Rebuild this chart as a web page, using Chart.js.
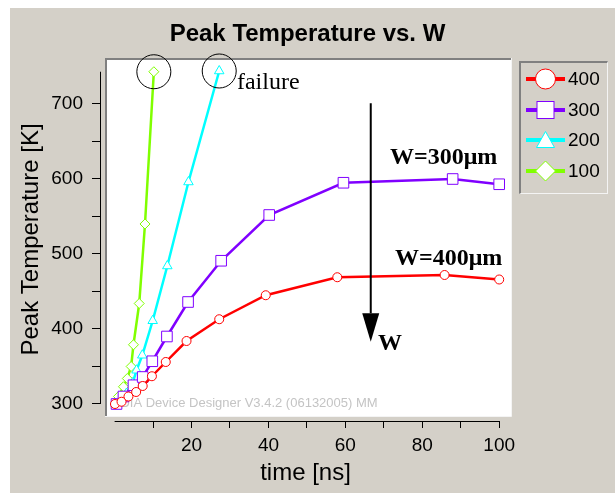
<!DOCTYPE html>
<html lang="en">
<head>
  <meta charset="utf-8">
  <title>Peak Temperature vs. W</title>
  <script src="https://cdn.jsdelivr.net/npm/chart.js"></script>
  <style>
    html, body { margin: 0; padding: 0; background: #fff; }
    .panel { position: absolute; left: 10px; top: 8px; width: 605px; height: 485px; background: #d4d0c8; }
    #chart { position: absolute; left: 0; top: 0; }
    .legend {
      position: absolute; left: 519px; top: 61px; width: 86px; height: 130px;
      border-top: 2px solid #808080; border-left: 2px solid #808080;
      border-right: 1px solid #f4f4f4; border-bottom: 1px solid #f4f4f4;
      font: 19px "Liberation Sans", Arial, sans-serif; color: #000;
    }
    .legend-item { position: absolute; left: 5px; height: 24px; display: flex; align-items: center; }
    .legend-item svg { display: block; }
    .legend-item span { margin-left: 2px; }
  </style>
</head>
<body>
<div class="panel"></div>
<canvas id="chart" width="615" height="495"></canvas>
<div class="legend" id="legend"></div>
<script>
  // series: W = 400, 300, 200, 100 um
  const seriesLabels = ['400', '300', '200', '100'];

  const time400 = [0.1, 1.8, 3.6, 5.6, 7.3, 9.7, 13.3, 18.7, 27.2, 39.3, 57.9, 85.8, 100];
  const temp400 = [300, 303, 310, 316, 324, 337, 356, 384, 413, 445, 469, 472, 466];

  const time300 = [0.5, 2.3, 4.9, 7.3, 9.8, 13.6, 19.1, 27.7, 40.2, 59.5, 87.9, 100];
  const temp300 = [300, 310, 325, 336, 357, 390, 436, 491, 552, 595, 600, 593];

  const time200 = [0.3, 1.4, 3.1, 4.7, 5.7, 7.2, 9.9, 13.7, 19.2, 27.2];
  const temp200 = [300, 305, 314, 328, 345, 365, 411, 484, 596, 744];

  const time100 = [0.3, 1.0, 2.3, 3.3, 4.3, 4.9, 6.4, 7.9, 10.2];
  const temp100 = [300, 310, 323, 334, 350, 379, 434, 540, 743];

  const xTicks = [10, 20, 30, 40, 50, 60, 70, 80, 90, 100];
  const yTicks = [300, 350, 400, 450, 500, 550, 600, 650, 700];

  const times = [time400, time300, time200, time100];
  const temps = [temp400, temp300, temp200, temp100];

  const colors = ['#ff0000', '#8000ff', '#00ffff', '#80ff00'];
  const styles = ['circle', 'rect', 'triangle', 'rectRot'];
  const radii = [4.5, 7.5, 5.5, 5];

  const sans = '"Liberation Sans", Arial, sans-serif';
  const serif = '"Liberation Serif", "Times New Roman", serif';
  const watermark = 'SOIA Device Designer V3.4.2 (06132005) MM';

  // annotation anchors, in data units
  const notes = {
    failure: { x: 31.8, y: 720 },
    arrow: { x: 66.6, top: 701, headBase: 421, tip: 383 },
    arrowLabel: { x: 68.5, y: 372 },
    w300: { x: 71.6, y: 620 },
    w400: { x: 72.9, y: 485 }
  };

  const plotFrame = {
    id: 'plotFrame',
    beforeDraw(chart) {
      const { ctx, chartArea: a } = chart;
      const l = a.left + 5, b = a.bottom - 5;
      ctx.save();
      ctx.fillStyle = '#fff';
      ctx.fillRect(l, a.top, a.right - l, b - a.top);
      ctx.strokeStyle = '#f4f4f4';
      ctx.lineWidth = 1;
      ctx.beginPath();
      ctx.moveTo(l, b + 0.5); ctx.lineTo(a.right + 0.5, b + 0.5); ctx.lineTo(a.right + 0.5, a.top);
      ctx.stroke();
      ctx.strokeStyle = '#808080';
      ctx.lineWidth = 2;
      ctx.beginPath();
      ctx.moveTo(l + 1, b); ctx.lineTo(l + 1, a.top + 1); ctx.lineTo(a.right, a.top + 1);
      ctx.stroke();
      ctx.fillStyle = '#c4c4c4';
      ctx.font = '13px ' + sans;
      ctx.textBaseline = 'alphabetic';
      ctx.fillText(watermark, l + 6, b - 9);
      ctx.restore();
    }
  };

  const axisLines = {
    id: 'axisLines',
    beforeDatasetsDraw(chart) {
      const { ctx, chartArea: a, scales: { x, y } } = chart;
      ctx.save();
      ctx.strokeStyle = '#000';
      ctx.lineWidth = 1;
      ctx.beginPath();
      ctx.moveTo(a.left + 0.5, y.getPixelForValue(743));
      ctx.lineTo(a.left + 0.5, y.getPixelForValue(300));
      ctx.moveTo(x.getPixelForValue(0), a.bottom + 0.5);
      ctx.lineTo(x.getPixelForValue(100), a.bottom + 0.5);
      ctx.stroke();
      ctx.restore();
    }
  };

  const annotations = {
    id: 'annotations',
    afterDatasetsDraw(chart) {
      const { ctx, scales: { x, y } } = chart;
      ctx.save();
      ctx.strokeStyle = '#000';
      ctx.fillStyle = '#000';
      ctx.lineWidth = 1;
      // circles round the failure points
      [[time100, temp100], [time200, temp200]].forEach(([t, v]) => {
        const i = t.length - 1;
        ctx.beginPath();
        ctx.arc(x.getPixelForValue(t[i]), y.getPixelForValue(v[i]), 17, 0, Math.PI * 2);
        ctx.stroke();
      });
      ctx.textBaseline = 'alphabetic';
      ctx.font = '24px ' + serif;
      ctx.fillText('failure', x.getPixelForValue(notes.failure.x), y.getPixelForValue(notes.failure.y));

      // arrow
      const ax = x.getPixelForValue(notes.arrow.x);
      ctx.lineWidth = 2;
      ctx.beginPath();
      ctx.moveTo(ax, y.getPixelForValue(notes.arrow.top));
      ctx.lineTo(ax, y.getPixelForValue(notes.arrow.headBase));
      ctx.stroke();
      ctx.beginPath();
      ctx.moveTo(ax - 8.5, y.getPixelForValue(notes.arrow.headBase));
      ctx.lineTo(ax + 8.5, y.getPixelForValue(notes.arrow.headBase));
      ctx.lineTo(ax, y.getPixelForValue(notes.arrow.tip));
      ctx.closePath();
      ctx.fill();

      ctx.font = 'bold 24px ' + serif;
      ctx.fillText('W', x.getPixelForValue(notes.arrowLabel.x), y.getPixelForValue(notes.arrowLabel.y));
      ctx.fillText('W=300\u03bcm', x.getPixelForValue(notes.w300.x), y.getPixelForValue(notes.w300.y));
      ctx.fillText('W=400\u03bcm', x.getPixelForValue(notes.w400.x), y.getPixelForValue(notes.w400.y));
      ctx.restore();
    }
  };

  const datasets = seriesLabels.map((label, i) => ({
    label: label,
    data: times[i].map((t, k) => ({ x: t, y: temps[i][k] })),
    borderColor: colors[i],
    borderWidth: 2.5,
    pointStyle: styles[i],
    pointRadius: radii[i],
    pointBorderColor: colors[i],
    pointBackgroundColor: '#fff',
    pointBorderWidth: 1,
    tension: 0
  }));

  const chart = new Chart(document.getElementById('chart'), {
    type: 'line',
    data: { datasets: datasets },
    options: {
      responsive: false,
      animation: false,
      events: [],
      layout: { padding: 0 },
      plugins: {
        legend: { display: false },
        tooltip: { enabled: false },
        title: {
          display: true,
          text: 'Peak Temperature vs. W',
          color: '#000',
          font: { family: sans, size: 24, weight: 'bold' },
          padding: { top: 20, bottom: 9.2 }
        }
      },
      scales: {
        x: {
          type: 'linear',
          min: -3.8,
          max: 103.07,
          border: { display: false },
          grid: { drawOnChartArea: false, color: '#000', tickLength: 7 },
          ticks: {
            stepSize: 10,
            includeBounds: false,
            autoSkip: false,
            maxRotation: 0,
            padding: 6,
            color: '#000',
            font: { family: sans, size: 19 },
            callback: v => (v % 20 === 0 ? v : '')
          },
          afterBuildTicks: s => { s.ticks = xTicks.map(v => ({ value: v })); },
          afterFit: s => { s.height = 74; },
          title: {
            display: true,
            text: 'time [ns]',
            color: '#000',
            font: { family: sans, size: 24 },
            padding: { top: 0, bottom: 7 }
          }
        },
        y: {
          type: 'linear',
          min: 277.33,
          max: 761.33,
          border: { display: false },
          grid: { drawOnChartArea: false, color: '#000', tickLength: 8 },
          ticks: {
            stepSize: 50,
            includeBounds: false,
            autoSkip: false,
            padding: 9,
            color: '#000',
            font: { family: sans, size: 19 },
            callback: v => (v % 100 === 0 ? v : '')
          },
          afterBuildTicks: s => { s.ticks = yTicks.map(v => ({ value: v })); },
          afterFit: s => { s.width = 100; },
          title: {
            display: true,
            text: 'Peak Temperature [K]',
            color: '#000',
            font: { family: sans, size: 24 },
            padding: { top: 17, bottom: 0 }
          }
        },
        // empty right-hand band that holds the legend box
        yRight: {
          type: 'linear',
          position: 'right',
          min: 277.33,
          max: 761.33,
          border: { display: false },
          grid: { display: false },
          ticks: { display: false },
          afterFit: s => { s.width = 104; }
        }
      }
    },
    plugins: [plotFrame, axisLines, annotations]
  });

  // legend box built from the datasets
  function legendSymbol(style, color) {
    let mark = '';
    if (style === 'circle') mark = `<circle cx="19.5" cy="12" r="10" fill="#fff" stroke="${color}"/>`;
    if (style === 'rect') mark = `<rect x="11" y="3.5" width="17" height="17" fill="#fff" stroke="${color}"/>`;
    if (style === 'triangle') mark = `<polygon points="19.5,3.5 28.5,19.5 10.5,19.5" fill="#fff" stroke="${color}"/>`;
    if (style === 'rectRot') mark = `<polygon points="19.5,2 29.5,12 19.5,22 9.5,12" fill="#fff" stroke="${color}"/>`;
    return `<svg width="40" height="24"><line x1="0" y1="12" x2="39" y2="12" stroke="${color}" stroke-width="4"/>${mark}</svg>`;
  }
  const legend = document.getElementById('legend');
  chart.data.datasets.forEach((ds, i) => {
    const item = document.createElement('div');
    item.className = 'legend-item';
    item.style.top = (4 + i * 30.7) + 'px';
    item.innerHTML = legendSymbol(ds.pointStyle, ds.borderColor) + `<span>${ds.label}</span>`;
    legend.appendChild(item);
  });
</script>
</body>
</html>
